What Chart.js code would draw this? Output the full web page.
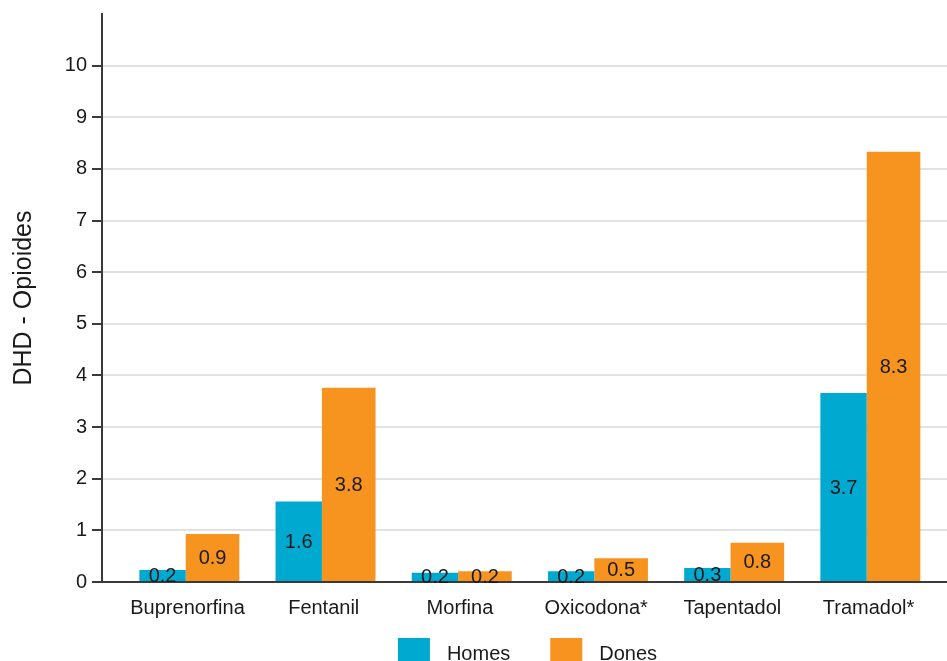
<!DOCTYPE html>
<html>
<head>
<meta charset="utf-8">
<script src="https://cdn.jsdelivr.net/npm/chart.js@4/dist/chart.umd.min.js"></script>
<style>
  html, body { margin: 0; padding: 0; background: #fff; overflow: hidden; }
  #wrap { width: 947px; height: 661px; position: relative; }
</style>
</head>
<body>
<div id="wrap"><canvas id="c" width="947" height="661"></canvas></div>
<script>
const categories = ["Buprenorfina", "Fentanil", "Morfina", "Oxicodona*", "Tapentadol", "Tramadol*"];
const homes = [0.23, 1.56, 0.18, 0.21, 0.27, 3.66];
const dones = [0.93, 3.76, 0.21, 0.46, 0.76, 8.33];
const yTicks = [0, 1, 2, 3, 4, 5, 6, 7, 8, 9, 10];
const seriesNames = ["Homes", "Dones"];

const FONT = "'Liberation Sans', Arial, sans-serif";
const BLUE = '#00A9CF';
const ORANGE = '#F7931F';

const valueLabels = {
  id: 'valueLabels',
  afterDatasetsDraw(chart) {
    const ctx = chart.ctx;
    ctx.save();
    ctx.font = '20px ' + FONT;
    ctx.fillStyle = '#1a1a1a';
    ctx.textAlign = 'center';
    ctx.textBaseline = 'middle';
    chart.data.datasets.forEach((ds, di) => {
      const meta = chart.getDatasetMeta(di);
      meta.data.forEach((el, i) => {
        const v = ds.data[i].y;
        const yc = (el.y + el.base) / 2;
        ctx.fillText(v.toFixed(1), el.x, yc + 1);
      });
    });
    ctx.restore();
  }
};

// Bottom legend drawn from the datasets' own labels and colours
const bottomLegend = {
  id: 'bottomLegend',
  afterDraw(chart) {
    const ctx = chart.ctx;
    const area = chart.chartArea;
    const boxW = 32, boxH = 30, textGap = 17, itemGap = 40;
    ctx.save();
    ctx.font = '20px ' + FONT;
    const items = chart.data.datasets.map(ds => ({
      text: ds.label, color: ds.backgroundColor, w: ctx.measureText(ds.label).width
    }));
    let total = 0;
    items.forEach((it, i) => { total += boxW + textGap + it.w + (i < items.length - 1 ? itemGap : 0); });
    let x = (area.left + area.right) / 2 - total / 2 + 3;
    const top = area.bottom + 56;
    items.forEach(it => {
      ctx.fillStyle = it.color;
      ctx.fillRect(x, top, boxW, boxH);
      ctx.fillStyle = '#1a1a1a';
      ctx.textAlign = 'left';
      ctx.textBaseline = 'middle';
      ctx.fillText(it.text, x + boxW + textGap, top + boxH / 2 + 1);
      x += boxW + textGap + it.w + itemGap;
    });
    ctx.restore();
  }
};

new Chart(document.getElementById('c'), {
  type: 'bar',
  data: {
    datasets: [
      {
        label: seriesNames[0],
        data: homes.map((v, i) => ({ x: i, y: v })),
        backgroundColor: BLUE,
        barPercentage: 0.928,
        categoryPercentage: 0.734
      },
      {
        label: seriesNames[1],
        data: dones.map((v, i) => ({ x: i, y: v })),
        backgroundColor: ORANGE,
        barPercentage: 1.072,
        categoryPercentage: 0.734
      }
    ]
  },
  options: {
    responsive: false,
    animation: false,
    devicePixelRatio: 1,
    layout: { padding: { top: 14, left: 0, right: 0, bottom: 39 } },
    plugins: {
      legend: { display: false },
      tooltip: { enabled: false }
    },
    scales: {
      x: {
        type: 'linear',
        min: -0.628,
        max: 5.576,
        offset: false,
        afterFit(scale) { scale.height = 40; scale.paddingLeft = 0; scale.paddingRight = 0; },
        grid: { display: true, drawOnChartArea: false, drawTicks: false },
        border: { display: true, color: '#3a3a3a', width: 2 },
        ticks: {
          stepSize: 1,
          includeBounds: false,
          autoSkip: false,
          maxRotation: 0,
          padding: 14,
          color: '#1a1a1a',
          font: { family: FONT, size: 20 },
          callback: (v) => Number.isInteger(v) ? categories[v] : ''
        }
      },
      y: {
        min: 0,
        max: 11,
        afterFit(scale) { scale.width = 102; scale.paddingTop = 0; scale.paddingBottom = 0; },
        grid: {
          color: '#e2e2e2',
          tickColor: '#3a3a3a',
          tickLength: 10,
          lineWidth: 2
        },
        border: { display: true, color: '#3a3a3a', width: 2 },
        title: {
          display: true,
          text: 'DHD - Opioides',
          color: '#1a1a1a',
          font: { family: FONT, size: 25 },
          padding: { top: 9, bottom: 8 }
        },
        ticks: {
          stepSize: 1,
          padding: 5,
          color: '#1a1a1a',
          font: { family: FONT, size: 20 },
          callback: (v) => yTicks.includes(v) ? String(v) : null
        }
      }
    }
  },
  plugins: [valueLabels, bottomLegend]
});
</script>
</body>
</html>
